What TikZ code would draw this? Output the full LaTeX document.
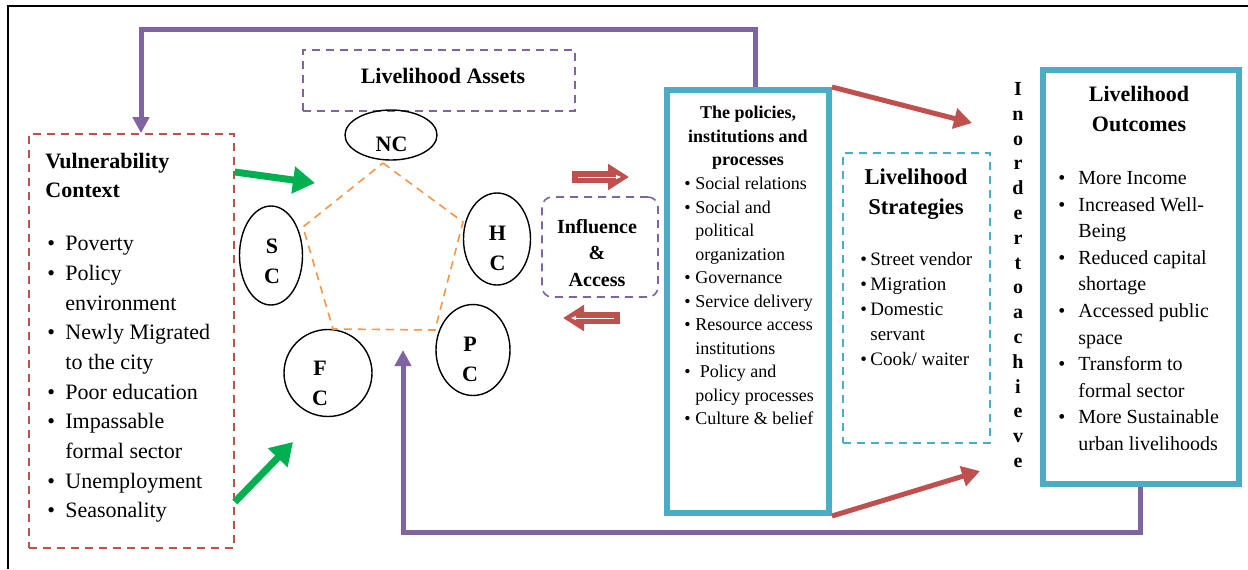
\documentclass[tikz,border=0pt]{standalone}
\usepackage{fontspec}
\setmainfont{Liberation Serif}
\usetikzlibrary{arrows.meta,shapes.geometric}
\definecolor{slred}{RGB}{192,80,77}
\definecolor{slpurple}{RGB}{128,100,162}
\definecolor{slcyan}{RGB}{75,172,198}
\definecolor{slorange}{RGB}{247,150,70}
\definecolor{slgreen}{RGB}{0,176,80}
\newlength{\bw}
\newcommand{\bul}{\makebox[\bw][l]{\textbullet}}
\newcommand{\ind}{\hspace*{\bw}}

\begin{document}
\begin{tikzpicture}[x=0.5pt, y=-0.5pt,
    dashbox/.style={draw, line width=0.8pt, dash pattern=on 4pt off 3pt, inner sep=0pt},
    thickbox/.style={draw=slcyan, line width=3pt, inner sep=0pt},
    asset/.style={draw, ellipse, line width=0.7pt, inner sep=0pt},
    assetlbl/.style={inner sep=0pt, align=center, font=\fontsize{11}{15}\selectfont\bfseries},
    ttl/.style={inner sep=0pt, align=center, font=\fontsize{11}{14.5}\selectfont\bfseries},
    lst/.style={inner sep=0pt, align=left, anchor=north west},
    greenarrow/.style={draw=slgreen, line width=3.5pt, -{Triangle[length=11pt,width=13pt]}},
    redarrow/.style={draw=slred, line width=2.5pt, -{Triangle[length=9pt,width=10pt]}},
    blockarrow/.style={draw=slred, line width=6pt, -{Triangle[length=10.5pt,width=12.5pt]}},
    whitearrow/.style={draw=white, line width=0.4pt, -{Triangle[length=2.5pt,width=2pt]}},
    fbarrow/.style={draw=slpurple, line width=2.5pt, line join=miter, -{Triangle[length=8pt,width=8pt]}}]
  \useasboundingbox (0,0) rectangle (1248,569);
  \draw[line width=0.8pt] (8,569) -- (8,6) -- (1248,6);

  % boxes
  \node[dashbox, draw=slred, minimum width=102.5pt, minimum height=207pt] (vul) at (131.5,341) {};
  \node[dashbox, draw=slpurple, minimum width=136pt, minimum height=30.5pt] (assets) at (439,80.5) {};
  \node[dashbox, draw=slpurple, rounded corners=5pt, minimum width=58pt, minimum height=50pt] (infl) at (600,247) {};
  \node[thickbox, minimum width=81pt, minimum height=211.5pt] (pol) at (748,301.5) {};
  \node[dashbox, draw=slcyan, minimum width=73.5pt, minimum height=145pt] (strat) at (916.5,298) {};
  \node[thickbox, minimum width=98pt, minimum height=207pt] (out) at (1140.5,277) {};

  % vulnerability context
  \node[ttl, align=left, anchor=north west, font=\fontsize{11}{14.2}\selectfont\bfseries] (vultitle) at (45,153) {Vulnerability\\Context};
  \node[lst, font=\fontsize{11}{14.83}\selectfont, execute at begin node={\global\bw=9pt}] (vullist) at (47,236)
    {\bul Poverty\\\bul Policy\\\ind environment\\\bul Newly Migrated\\\ind to the city\\\bul Poor education\\
     \bul Impassable\\\ind formal sector\\\bul Unemployment\\\bul Seasonality};

  % assets
  \node[ttl] (assetslbl) at (443,76) {Livelihood Assets};
  \node[asset, minimum width=46pt, minimum height=25pt] (nc) at (391,135) {};
  \node[asset, minimum width=31.5pt, minimum height=49.5pt] (sc) at (271,255.5) {};
  \node[asset, minimum width=33.5pt, minimum height=46pt] (hc) at (497,239) {};
  \node[asset, minimum width=37pt, minimum height=45.5pt] (pc) at (473,350) {};
  \node[asset, minimum width=44pt, minimum height=43.5pt] (fc) at (328,373) {};
  \node[assetlbl] (nclbl) at (391.5,144) {NC};
  \node[assetlbl] (sclbl) at (272,261.5) {S\\C};
  \node[assetlbl] (hclbl) at (497.5,248) {H\\C};
  \node[assetlbl] (pclbl) at (470,359) {P\\C};
  \node[assetlbl] (fclbl) at (320,383) {F\\C};
  \draw[slorange, line width=0.8pt, dash pattern=on 4pt off 3pt] (383,163) -- (463,222) -- (435,330) -- (333,329) -- (303,227) -- cycle;

  % influence and access
  \node[ttl, font=\fontsize{10}{13.25}\selectfont\bfseries] (infllbl) at (597,253) {Influence\\\&\\Access};
  \coordinate (ia1a) at (572,177);
  \coordinate (ia1b) at (629,177);
  \coordinate (ia2a) at (620,318);
  \coordinate (ia2b) at (563,318);
  \draw[blockarrow] (ia1a) -- (ia1b);
  \draw[whitearrow] ([xshift=3pt]ia1a) -- ([xshift=-4pt]ia1b);
  \draw[blockarrow] (ia2a) -- (ia2b);
  \draw[whitearrow] ([xshift=-3pt]ia2a) -- ([xshift=4pt]ia2b);

  % policies
  \node[ttl, anchor=north, font=\fontsize{9}{11.75}\selectfont\bfseries] (poltitle) at (748,106) {The policies,\\institutions and\\processes};
  \node[lst, font=\fontsize{9}{11.75}\selectfont, execute at begin node={\global\bw=5.5pt}] (pollist) at (684,177)
    {\bul Social relations\\\bul Social and\\\ind political\\\ind organization\\\bul Governance\\\bul Service delivery\\
     \bul Resource access\\\ind institutions\\\bul\ Policy and\\\ind policy processes\\\bul Culture \& belief};

  % strategies
  \node[ttl, anchor=north, font=\fontsize{11.3}{15}\selectfont\bfseries] (strattitle) at (916,168) {Livelihood\\Strategies};
  \node[lst, font=\fontsize{9.5}{12.5}\selectfont, execute at begin node={\global\bw=5pt}] (stratlist) at (860,252)
    {\bul Street vendor\\\bul Migration\\\bul Domestic\\\ind servant\\\bul Cook/ waiter};

  \node[ttl, font=\fontsize{10}{12.4}\selectfont\bfseries] (goal) at (1018,275) {I\\n\\o\\r\\d\\e\\r\\t\\o\\a\\c\\h\\i\\e\\v\\e};

  % outcomes
  \node[ttl, anchor=north, font=\fontsize{11}{14.7}\selectfont\bfseries] (outtitle) at (1139,86) {Livelihood\\Outcomes};
  \node[lst, font=\fontsize{10}{13.3}\selectfont, execute at begin node={\global\bw=10pt}] (outlist) at (1058,171)
    {\bul More Income\\\bul Increased Well-\\\ind Being\\\bul Reduced capital\\\ind shortage\\\bul Accessed public\\\ind space\\
     \bul Transform to\\\ind formal sector\\\bul More Sustainable\\\ind urban livelihoods};

  % arrows
  \coordinate (g1) at (315,183);
  \coordinate (g2) at (293,442);
  \draw[greenarrow] (vul.east |- 0,172) -- (g1);
  \draw[greenarrow] (vul.east |- 0,502) -- (g2);
  \coordinate (ach1) at (972,123);
  \coordinate (ach2) at (980,471);
  \draw[redarrow] (pol.north east) -- (ach1);
  \draw[redarrow] (pol.south east) -- (ach2);
  \coordinate (fbtop) at (141,29);
  \coordinate (fbbot) at (403,532);
  \coordinate (fctip) at (403,350);
  \draw[fbarrow] ([xshift=3.5pt]pol.north) |- (fbtop) -- ([xshift=4.75pt]vul.north);
  \draw[fbarrow] (out.south) |- (fbbot) -- (fctip);
\end{tikzpicture}
\end{document}
